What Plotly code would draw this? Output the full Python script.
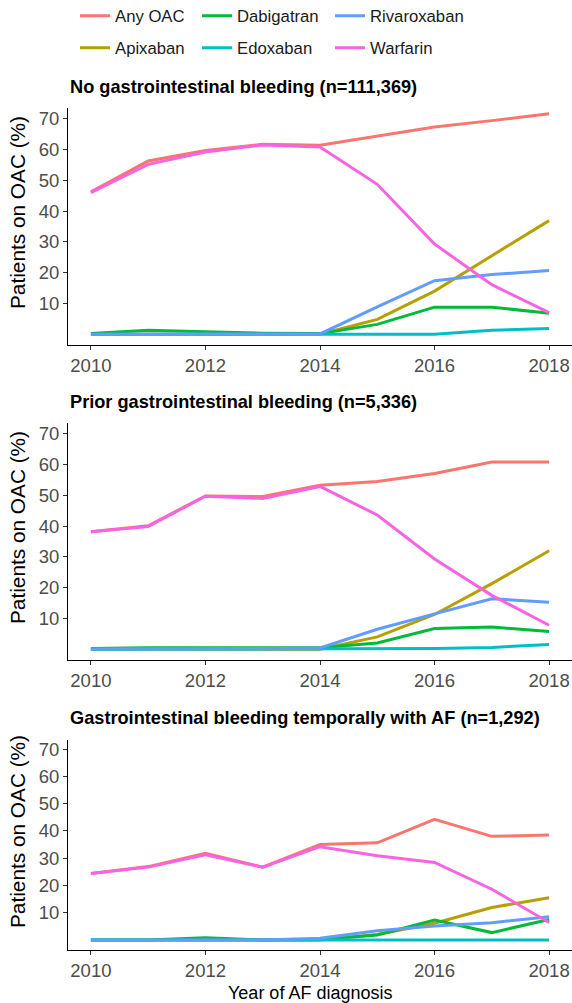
import plotly.graph_objects as go

years = [2010, 2011, 2012, 2013, 2014, 2015, 2016, 2017, 2018]
series_names = ["Any OAC", "Apixaban", "Dabigatran", "Edoxaban", "Rivaroxaban", "Warfarin"]
colors = ["#F8766D", "#B79F00", "#00BA38", "#00BFC4", "#619CFF", "#F564E3"]

panel_titles = [
    "No gastrointestinal bleeding (n=111,369)",
    "Prior gastrointestinal bleeding (n=5,336)",
    "Gastrointestinal bleeding temporally with AF (n=1,292)",
]

# Panel 1: No gastrointestinal bleeding
p1_any = [46.3, 56.3, 59.7, 61.7, 61.4, 64.4, 67.3, 69.4, 71.6]
p1_apixaban = [0, 0, 0, 0, 0, 4.8, 14.0, 25.5, 36.9]
p1_dabigatran = [0.2, 1.3, 0.8, 0.3, 0.2, 3.2, 8.8, 8.8, 6.8]
p1_edoxaban = [0, 0, 0, 0, 0, 0, 0, 1.3, 1.9]
p1_rivaroxaban = [0, 0, 0, 0, 0.1, 8.9, 17.4, 19.4, 20.7]
p1_warfarin = [46.0, 55.2, 59.2, 61.5, 60.8, 48.7, 29.3, 16.1, 7.0]

# Panel 2: Prior gastrointestinal bleeding
p2_any = [38.2, 40.1, 49.8, 49.6, 53.3, 54.5, 57.1, 60.8, 60.8]
p2_apixaban = [0, 0, 0, 0, 0, 4.0, 11.3, 21.3, 32.0]
p2_dabigatran = [0.2, 0.5, 0.5, 0.5, 0.5, 2.0, 6.7, 7.2, 5.8]
p2_edoxaban = [0, 0, 0, 0, 0, 0.1, 0.2, 0.6, 1.5]
p2_rivaroxaban = [0.1, 0.1, 0.1, 0.2, 0.4, 6.5, 11.5, 16.4, 15.3]
p2_warfarin = [38.2, 39.9, 49.7, 49.0, 52.9, 43.6, 29.3, 17.5, 7.8]

# Panel 3: Gastrointestinal bleeding temporally with AF
p3_any = [24.4, 26.9, 31.8, 26.7, 35.0, 35.6, 44.2, 38.0, 38.5]
p3_apixaban = [0, 0, 0, 0, 0, 2.0, 6.1, 11.9, 15.5]
p3_dabigatran = [0, 0, 0.8, 0, 0.2, 1.8, 7.3, 2.7, 7.5]
p3_edoxaban = [0, 0, 0, 0, 0, 0, 0, 0, 0]
p3_rivaroxaban = [0, 0, 0, 0, 0.6, 3.4, 5.1, 6.3, 8.5]
p3_warfarin = [24.4, 26.7, 31.2, 26.7, 34.2, 30.9, 28.4, 18.6, 6.4]

panels = [
    [p1_any, p1_apixaban, p1_dabigatran, p1_edoxaban, p1_rivaroxaban, p1_warfarin],
    [p2_any, p2_apixaban, p2_dabigatran, p2_edoxaban, p2_rivaroxaban, p2_warfarin],
    [p3_any, p3_apixaban, p3_dabigatran, p3_edoxaban, p3_rivaroxaban, p3_warfarin],
]

y_ticks = [10, 20, 30, 40, 50, 60, 70]
x_ticks = [2010, 2012, 2014, 2016, 2018]

W, H = 572, 1003
FONT = "Liberation Sans, Arial, Helvetica, sans-serif"

# panel pixel extents (top, bottom)
panel_px = [(108, 345), (423, 660), (739.5, 949.5)]
ytitle_px = [213, 528, 832]
title_px = [87, 402, 718]

legend_row1 = ["Any OAC", "Dabigatran", "Rivaroxaban"]
legend_widths = {"Any OAC": 77, "Apixaban": 77, "Dabigatran": 88,
                 "Edoxaban": 88, "Rivaroxaban": 100, "Warfarin": 100}

fig = go.Figure()
for i, vals in enumerate(panels):
    ax = "" if i == 0 else str(i + 1)
    for name, col, v in zip(series_names, colors, vals):
        fig.add_trace(go.Scatter(
            x=years, y=v, mode="lines", name=name,
            line=dict(color=col, width=3),
            xaxis="x" + ax, yaxis="y" + ax,
            showlegend=(i == 0),
            legend="legend" if name in legend_row1 else "legend2",
            legendwidth=legend_widths[name],
            hoverinfo="skip",
        ))

leg_common = dict(orientation="h", xref="container", yref="container",
                  x=75 / W, xanchor="left", yanchor="middle",
                  font=dict(size=16.7, color="#1a1a1a", family=FONT),
                  bgcolor="rgba(0,0,0,0)", borderwidth=0)

layout = dict(
    template="none",
    width=W, height=H,
    margin=dict(l=68, r=0, t=0, b=0, autoexpand=False),
    paper_bgcolor="white", plot_bgcolor="white",
    font=dict(family=FONT, color="black"),
    legend=dict(y=1 - 16 / H, **leg_common),
    legend2=dict(y=1 - 48 / H, **leg_common),
)

annotations = []
for i, (top, bot) in enumerate(panel_px):
    ax = "" if i == 0 else str(i + 1)
    dom = [1 - bot / H, 1 - top / H]
    layout["xaxis" + ax] = dict(
        domain=[0, 1], range=[2009.6, 2018.4], anchor="y" + ax, automargin=False,
        tickvals=x_ticks, ticktext=[str(t) for t in x_ticks],
        showgrid=False, zeroline=False, showline=True, linecolor="black", linewidth=1.1,
        ticks="outside", ticklen=4, tickwidth=1, tickcolor="#333333",
        tickfont=dict(size=18.5, color="#4D4D4D", family=FONT),
    )
    layout["yaxis" + ax] = dict(
        domain=dom, range=[-3.5, 73.5], anchor="x" + ax, automargin=False,
        tickvals=y_ticks, ticktext=[str(t) for t in y_ticks],
        showgrid=False, zeroline=False, showline=True, linecolor="black", linewidth=1.1,
        ticks="outside", ticklen=4, tickwidth=1, tickcolor="#333333",
        tickfont=dict(size=18.5, color="#4D4D4D", family=FONT),
    )
    annotations.append(dict(
        text="<b>" + panel_titles[i] + "</b>", xref="paper", yref="paper",
        x=0, y=1 - title_px[i] / H, xanchor="left", yanchor="middle",
        showarrow=False, font=dict(size=18.2, color="black", family=FONT),
    ))
    annotations.append(dict(
        text="Patients on OAC (%)", xref="paper", yref="paper",
        x=-(68 - 17) / 504, y=1 - ytitle_px[i] / H, xanchor="center", yanchor="middle",
        textangle=-90, showarrow=False, font=dict(size=20.8, color="black", family=FONT),
    ))

annotations.append(dict(
    text="Year of AF diagnosis", xref="paper", yref="paper",
    x=(310 - 68) / 504, y=1 - 993 / H, xanchor="center", yanchor="middle",
    showarrow=False, font=dict(size=18, color="black", family=FONT),
))
layout["annotations"] = annotations
fig.update_layout(**layout)
fig.write_html("out.html", config={"displayModeBar": False},
               post_script="document.body.style.margin='0';document.body.style.overflow='hidden';")
